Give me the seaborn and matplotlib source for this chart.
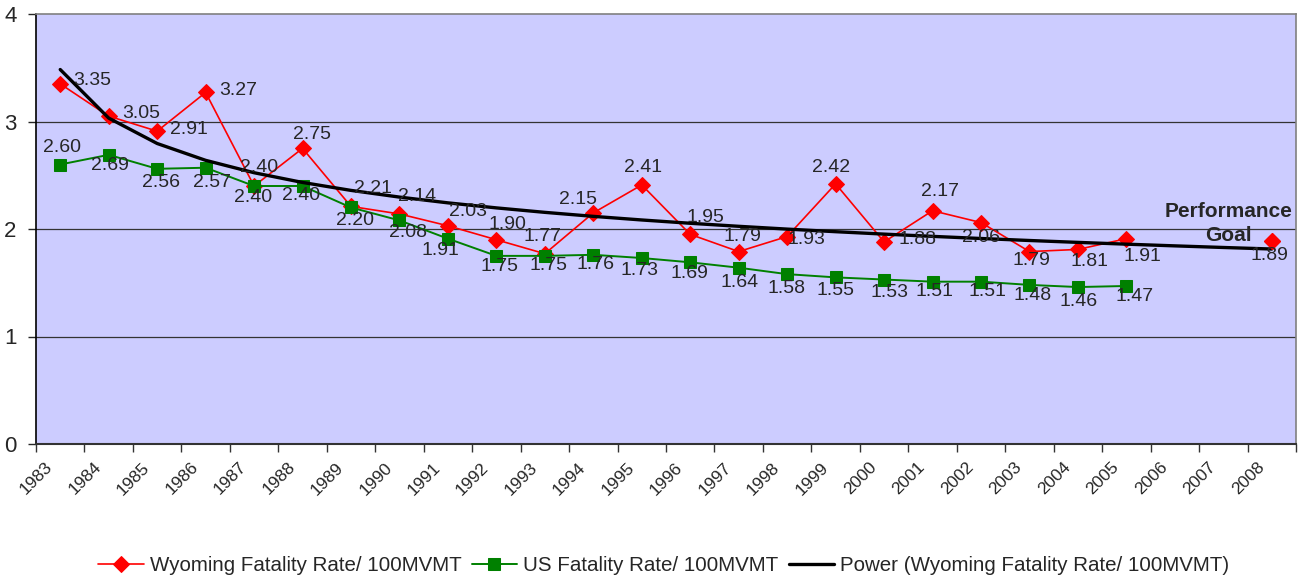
import numpy as np
import pandas as pd
import matplotlib.pyplot as plt
import matplotlib.transforms as mtransforms
import seaborn as sns

sns.set_style('white')
plt.rcParams['font.family'] = ['Liberation Sans', 'DejaVu Sans']

# Data
years = [str(y) for y in range(1983, 2009)]
wy_years = [str(y) for y in range(1983, 2006)]
wyoming = [3.35, 3.05, 2.91, 3.27, 2.40, 2.75, 2.21, 2.14, 2.03, 1.90, 1.77, 2.15,
           2.41, 1.95, 1.79, 1.93, 2.42, 1.88, 2.17, 2.06, 1.79, 1.81, 1.91]
us = [2.60, 2.69, 2.56, 2.57, 2.40, 2.40, 2.20, 2.08, 1.91, 1.75, 1.75, 1.76,
      1.73, 1.69, 1.64, 1.58, 1.55, 1.53, 1.51, 1.51, 1.48, 1.46, 1.47]
goal_year = '2008'
goal_value = 1.89

# label offsets in pixels (dx, dy down)
wy_dx = [32, 33, 32, 33, 5, 9, 22, 18, 20, 11, -2, -15, 1, 15, 4, 19, -5, 33, 7, 0, 2, 12, 16]
wy_dy = [-3, -3, -2, -2, -19, -14, -18, -17, -14, -15, -17, -13, -17, -17, -15, 3, -16, -2, -19, 15, 9, 12, 18]
us_dx = [2, 1, 4, 6, -1, -1, 4, 9, -7, 3, 4, 2, -2, -1, 1, -1, 0, 5, 2, 6, 3, 1, 8]
us_dy = [-17, 11, 14, 15, 12, 9, 13, 12, 12, 11, 10, 10, 12, 11, 15, 14, 13, 13, 10, 10, 11, 14, 11]

pos = {y: i for i, y in enumerate(years)}
df = pd.DataFrame({'x': [pos[y] for y in wy_years], 'wy': wyoming, 'us': us})

# Power trendline fitted on the Wyoming series (Excel style, x = 1..n)
xi = np.array([pos[y] + 1 for y in wy_years] + [pos[goal_year] + 1])
yi = np.array(wyoming + [goal_value])
b, ln_a = np.polyfit(np.log(xi), np.log(yi), 1)
xt = np.arange(1, len(years) + 1)
trend = pd.DataFrame({'x': xt - 1, 'y': np.exp(ln_a) * xt ** b})

fig = plt.figure(figsize=(13.04, 5.82), dpi=100)
ax = fig.add_axes([36 / 1304, 1 - 444 / 582, 1260 / 1304, 430 / 582])
ax.set_facecolor('#CCCCFF')

sns.lineplot(data=df, x='x', y='wy', ax=ax, color='#FF0000', lw=1.2, marker='D',
             markersize=8, markeredgecolor='#FF0000', label='Wyoming Fatality Rate/ 100MVMT')
sns.lineplot(data=df, x='x', y='us', ax=ax, color='#008000', lw=1.4, marker='s',
             markersize=8, markeredgecolor='#008000', label='US Fatality Rate/ 100MVMT')
sns.lineplot(data=trend, x='x', y='y', ax=ax, color='black', lw=2.4,
             label='Power (Wyoming Fatality Rate/ 100MVMT)')
ax.plot([pos[goal_year]], [goal_value], marker='D', ms=8, color='#FF0000', ls='none')

fs = 14
for i, v in enumerate(wyoming):
    ax.annotate(f'{v:.2f}', (df['x'][i], v), xytext=(wy_dx[i], -wy_dy[i]),
                textcoords='offset pixels', ha='center', va='center', fontsize=fs)
for i, v in enumerate(us):
    ax.annotate(f'{v:.2f}', (df['x'][i], v), xytext=(us_dx[i], -us_dy[i]),
                textcoords='offset pixels', ha='center', va='center', fontsize=fs)
ax.annotate(f'{goal_value:.2f}', (pos[goal_year], goal_value), xytext=(-2, -15),
            textcoords='offset pixels', ha='center', va='center', fontsize=fs)
ax.text(24.1, 2.05, 'Performance\nGoal', ha='center', va='center', fontsize=15,
        fontweight='bold', linespacing=1.3)

ax.set_xlim(-0.5, len(years) - 0.5)
ax.set_ylim(0, 4)
ax.set_yticks([0, 1, 2, 3, 4])
ax.tick_params(axis='y', length=6, width=1, pad=8, labelsize=16, left=True)
ax.set_xticks(np.arange(-0.5, len(years)), labels=[])
ax.set_xticks(np.arange(len(years)), labels=years, minor=True)
ax.tick_params(axis='x', which='major', length=6, width=1, bottom=True, color='#333333')
ax.tick_params(axis='x', which='minor', length=0, pad=15, labelsize=12.5)
offset = mtransforms.ScaledTranslation(-10 / 100, 0, fig.dpi_scale_trans)
for lab in ax.get_xticklabels(minor=True):
    lab.set_rotation(45)
    lab.set_ha('right')
    lab.set_va('center')
    lab.set_rotation_mode('anchor')
    lab.set_transform(lab.get_transform() + offset)
ax.set_xlabel('')
ax.set_ylabel('')

for yv in [1, 2, 3]:
    ax.axhline(yv, color='#333333', lw=0.9, zorder=0.5)
ax.spines['left'].set_color('black')
ax.spines['left'].set_linewidth(1.2)
ax.spines['bottom'].set_color('#333333')
ax.spines['bottom'].set_linewidth(1.5)
for s in ['top', 'right']:
    ax.spines[s].set_color('#808080')
    ax.spines[s].set_linewidth(1.2)

handles, labels = ax.get_legend_handles_labels()
ax.get_legend().remove()
fig.legend(handles, labels, loc='center', bbox_to_anchor=(0.509, 0.028), ncol=3,
           frameon=False, fontsize=14.8, handlelength=2.2, handletextpad=0.3,
           columnspacing=0.5)

fig.savefig('out.png', dpi=100)
